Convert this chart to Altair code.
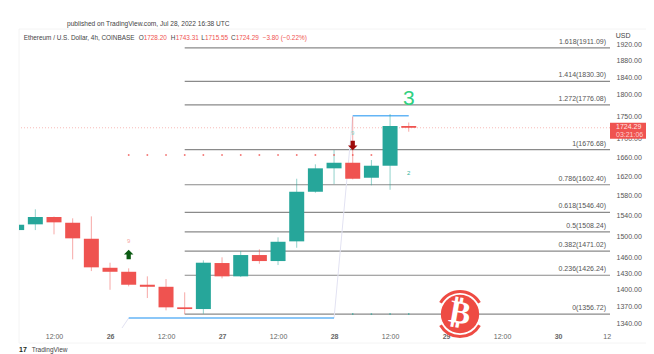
import altair as alt
import pandas as pd

FONT = "Liberation Sans"
GREEN = "#26a69a"
RED = "#ef5350"
BLUE = "#64b5f6"
LAVENDER = "#e2e2f2"

# candles, 4h bars (index 0 = first bar, clipped at the left edge)
opens = [1511.6, 1522.8, 1537.2, 1525.9, 1494.8, 1440.0, 1432.6, 1408.9, 1405.2, 1368.5, 1365.5,
         1448.8, 1424.2, 1463.8, 1452.5, 1489.8, 1588.0, 1636.6, 1648.4, 1616.9, 1642.1, 1728.2]
highs = [1523.0, 1552.5, 1538.1, 1534.6, 1538.5, 1449.4, 1438.9, 1424.2, 1419.3, 1395.2, 1453.8,
         1459.5, 1471.3, 1474.6, 1497.5, 1614.8, 1645.0, 1675.6, 1749.0, 1654.2, 1755.1, 1736.0]
lows = [1511.0, 1511.6, 1503.3, 1455.7, 1433.9, 1399.8, 1406.0, 1385.0, 1363.2, 1356.7, 1357.2,
        1420.5, 1422.9, 1447.5, 1445.1, 1477.6, 1586.0, 1603.8, 1613.5, 1601.2, 1592.1, 1715.55]
closes = [1522.0, 1537.2, 1526.7, 1495.6, 1440.8, 1432.6, 1408.9, 1405.2, 1368.5, 1365.5, 1449.4,
          1424.2, 1463.8, 1452.5, 1489.0, 1588.0, 1636.6, 1648.4, 1614.8, 1642.1, 1728.2, 1724.29]

fib_levels = ["1.618", "1.414", "1.272", "1", "0.786", "0.618", "0.5", "0.382", "0.236", "0"]
fib_prices = [1911.09, 1830.30, 1776.08, 1676.68, 1602.40, 1546.40, 1508.24, 1471.02, 1426.24, 1356.72]

dot_bars = list(range(6, 20))
dot_price = [1664.9] * len(dot_bars)
zero_bars = [18, 19, 20, 21]
zero_price = [1356.7] * 4

y_ticks = [1920, 1880, 1840, 1800, 1750, 1700, 1660, 1620, 1580, 1540, 1500, 1460, 1430, 1400, 1370, 1340]
x_ticks = [2, 5, 8, 11, 14, 17, 20, 23, 26, 29, 31.6]
x_labels = ["12:00", "26", "12:00", "27", "12:00", "28", "12:00", "29", "12:00", "30", "12"]

path_seg = ["a", "a", "c", "c"]
path_bar = [6, 17, 18, 21]
path_price = [1349.8, 1349.8, 1751.2, 1751.2]
link_seg = ["t", "t", "m", "m"]
link_bar = [5.63, 6, 17, 18]
link_price = [1332.0, 1349.8, 1349.8, 1751.2]

last_price = 1724.29
X_DOM = [0.125, 31.78]
Y_DOM = [1332.6, 1955.5]
xs = alt.Scale(domain=X_DOM, nice=False, zero=False)
ys = alt.Scale(type="log", domain=Y_DOM, nice=False)
cs = alt.Scale(domain=["up", "down"], range=[GREEN, RED])

candles = pd.DataFrame({"i": range(len(opens)), "o": opens, "h": highs, "l": lows, "c": closes})
candles["d"] = ["up" if c >= o else "down" for o, c in zip(opens, closes)]
fib = pd.DataFrame({"i": 9.0, "e": X_DOM[1], "p": fib_prices,
                    "t": [f"{a}({b:.2f})" for a, b in zip(fib_levels, fib_prices)]})
dots = pd.DataFrame({"i": dot_bars, "p": dot_price})
zeros = pd.DataFrame({"i": zero_bars, "p": zero_price})
path = pd.DataFrame({"s": path_seg, "i": path_bar, "p": path_price})
link = pd.DataFrame({"s": link_seg, "i": link_bar, "p": link_price})

x_axis = alt.Axis(
    values=x_ticks, grid=False, domain=False, ticks=False, labelPadding=4, labelFontSize=7,
    labelFont=FONT, labelColor="#666", labelOverlap=False, title=None,
    labelExpr="{" + ",".join(f"'{k}':'{v}'" for k, v in zip(x_ticks, x_labels)) + "}[''+datum.value]",
    labelFontWeight=alt.expr("indexof([5,11,17,23,29], datum.value) >= 0 ? 'bold' : 'normal'"))
y_axis = alt.Axis(
    orient="right", values=y_ticks, format=".2f", grid=False, domain=False, ticks=False, title=None,
    labelPadding=6, labelFontSize=7, labelFont=FONT, labelColor="#555", labelOverlap=False)
X = alt.X("i:Q", scale=xs, axis=x_axis)
Y = alt.Y("p:Q", scale=ys, axis=y_axis)
col = alt.Color("d:N", scale=cs, legend=None)


def txt(t, x, y, color="#555", size=7, align="left", **kw):
    return alt.Chart(alt.Data(values=[{}])).mark_text(
        text=t, font=kw.pop("font", FONT), fontSize=size, align=align, baseline="middle", color=color, **kw
    ).encode(x=alt.value(x - 19), y=alt.value(y - 30))


def at(t, i, p, color, size, **kw):
    return alt.Chart(pd.DataFrame({"i": [i], "p": [p]})).mark_text(
        text=t, font=FONT, fontSize=size, color=color, baseline="middle", **kw).encode(x=X, y=Y)


ARROW_UP = "M0,-1 L1,0 L0.45,0 L0.45,1 L-0.45,1 L-0.45,0 L-1,0 Z"
ARROW_DN = "M0,1 L1,0 L0.45,0 L0.45,-1 L-0.45,-1 L-0.45,0 L-1,0 Z"

frame = alt.Chart(alt.Data(values=[{}])).mark_rect(fill="#ffffff", fillOpacity=0, stroke="#f4f4f4", strokeWidth=1).encode(
    x=alt.value(0), x2=alt.value(629), y=alt.value(-1), y2=alt.value(313))
fib_lines = alt.Chart(fib).mark_rule(color="#8a8a8a", strokeWidth=1.2).encode(x=X, x2="e:Q", y=Y)
fib_text = alt.Chart(fib).mark_text(font=FONT, fontSize=7, color="#555", align="right", dx=-4, dy=-6).encode(
    x=alt.X("e:Q", scale=xs, axis=x_axis), y=Y, text="t:N")
price_line = alt.Chart(pd.DataFrame({"p": [last_price]})).mark_rule(
    color="#f5a9a7", strokeDash=[1, 2], strokeWidth=0.8).encode(y=Y)
link_line = alt.Chart(link).mark_line(strokeWidth=1, color=LAVENDER, clip=True).encode(x=X, y=Y, detail="s:N")
path_line = alt.Chart(path).mark_line(strokeWidth=1.6, color=BLUE, clip=True).encode(x=X, y=Y, detail="s:N")
wicks = alt.Chart(candles).mark_rule(strokeWidth=1, opacity=0.5, clip=True).encode(
    x=X, y=alt.Y("l:Q", scale=ys, axis=y_axis), y2="h:Q", color=col)
bodies = alt.Chart(candles).mark_rule(strokeWidth=15, clip=True).encode(
    x=X, y=alt.Y("o:Q", scale=ys, axis=y_axis), y2="c:Q", color=col)
dot_marks = alt.Chart(dots).mark_square(size=2.5, color=RED, opacity=0.9).encode(x=X, y=Y)
zero_marks = alt.Chart(zeros).mark_square(size=2, color=GREEN, opacity=0.8).encode(x=X, y=Y)
arrow_up = alt.Chart(pd.DataFrame({"i": [6], "p": [1464.7]})).mark_point(
    shape=ARROW_UP, size=90, filled=True, color="#0b5a12", opacity=1).encode(x=X, y=Y)
arrow_dn = alt.Chart(pd.DataFrame({"i": [18], "p": [1685.3]})).mark_point(
    shape=ARROW_DN, size=90, filled=True, color="#9e0b0b", opacity=1).encode(x=X, y=Y)

tag = alt.Chart(alt.Data(values=[{}])).mark_rect(color=RED).encode(
    x=alt.value(591), x2=alt.value(627), y=alt.value(92.7), y2=alt.value(108.7))

LOGO_X, LOGO_Y = 441, 284
logo_red = "#ee4b43"
wm = [
    alt.Chart(alt.Data(values=[{}])).mark_arc(theta=5.236, theta2=7.330, radius=24, radius2=21, color=logo_red).encode(
        x=alt.value(LOGO_X), y=alt.value(LOGO_Y)),
    alt.Chart(alt.Data(values=[{}])).mark_arc(theta=2.094, theta2=4.189, radius=24, radius2=21, color=logo_red).encode(
        x=alt.value(LOGO_X), y=alt.value(LOGO_Y)),
    alt.Chart(alt.Data(values=[{}])).mark_point(size=1475, filled=True, color=logo_red, opacity=1).encode(
        x=alt.value(LOGO_X), y=alt.value(LOGO_Y)),
    txt("\u20bf", 460, 313, "#ffffff", 32, "center", font="DejaVu Sans", fontWeight="bold", angle=10),
]

header = [
    txt("published on TradingView.com, Jul 28, 2022 16:38 UTC", 67, 23.5, "#444", 6.6),
    txt("Ethereum / U.S. Dollar, 4h, COINBASE", 23.7, 37.5, "#444", 6.4),
    txt("O", 138.7, 37.5, "#444", 6.4), txt("1728.20", 143.7, 37.5, RED, 6.4),
    txt("H", 170.7, 37.5, "#444", 6.4), txt("1743.31", 175.7, 37.5, RED, 6.4),
    txt("L", 201.3, 37.5, "#444", 6.4), txt("1715.55", 205, 37.5, RED, 6.4),
    txt("C", 231, 37.5, "#444", 6.4), txt("1724.29", 235.7, 37.5, RED, 6.4),
    txt("\u22123.80 (\u22120.22%)", 262.7, 37.5, RED, 6.4),
    txt("USD", 615.7, 36, "#444"),
    txt("1724.29", 616, 127.3, "#ffe3e2"), txt("03:21:06", 616, 134.5, "#ffd0ce"),
    txt("17", 19, 350, "#1a2a1a", 7, fontWeight="bold"),
    txt("TradingView", 31.7, 350, "#444", 6.5),
]

chart = alt.layer(
    frame, fib_lines, fib_text, price_line, link_line, path_line, wicks, bodies,
    dot_marks, zero_marks, arrow_up, arrow_dn,
    at("3", 21, 1788.6, "#2fd07f", 21, fontWeight=300),
    at("2", 21, 1626.8, "#35b39a", 6),
    at("9", 6, 1489.8, "#f6a5a2", 6),
    at("9", 18, 1713.3, "#7fd3c8", 6),
    tag, *wm, *header,
).properties(
    width=591, height=298,
    autosize=alt.AutoSizeParams(type="none"),
    padding={"left": 11, "top": 22, "right": 36, "bottom": 26},
    background="#ffffff",
).configure_view(stroke=None)

chart.save("out.html", embed_options={"renderer": "svg", "actions": False})
